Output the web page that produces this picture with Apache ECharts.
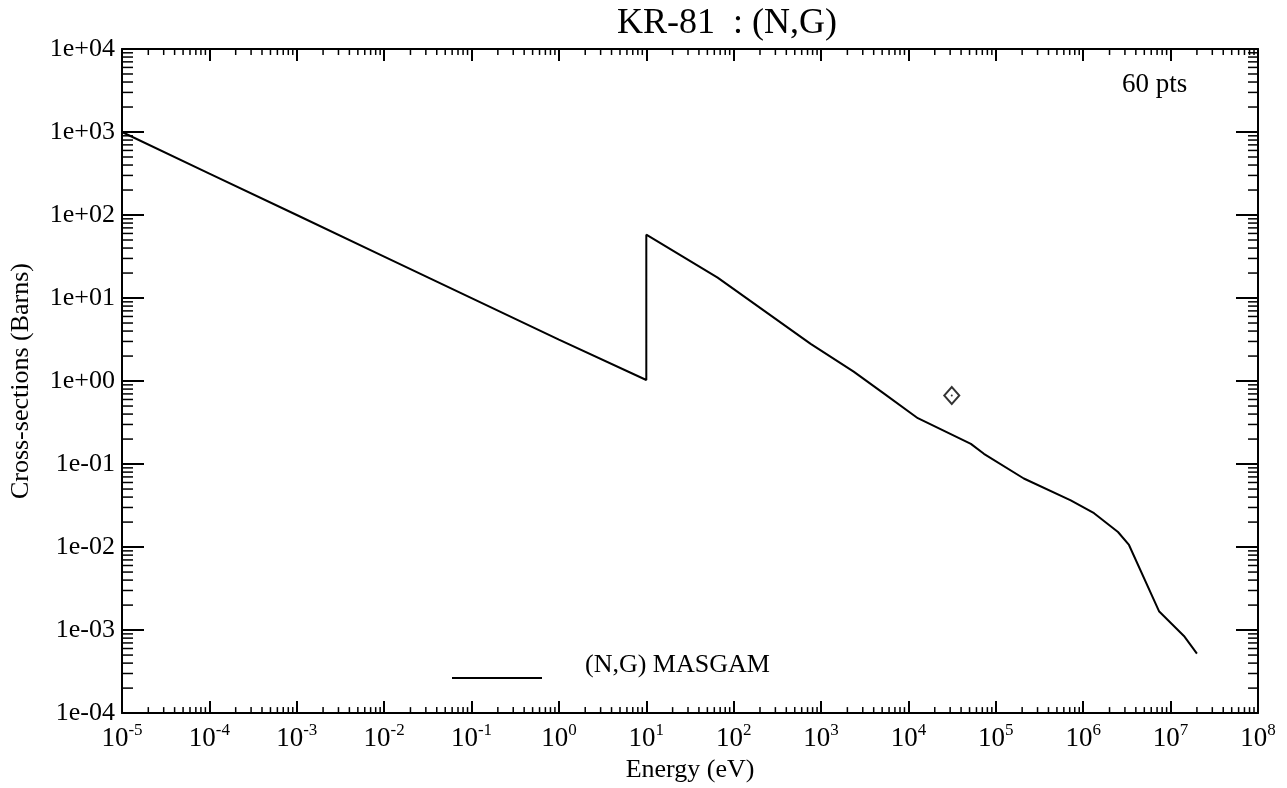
<!DOCTYPE html>
<html>
<head>
<meta charset="utf-8">
<script src="https://cdn.jsdelivr.net/npm/echarts@6/dist/echarts.min.js"></script>
<style>
  html, body { margin: 0; padding: 0; background: #ffffff; }
  #chart { width: 1287px; height: 788px; }
</style>
</head>
<body>
<div id="chart"></div>
<script>
// ---- data ----
const energyEV = [1e-5, 1e-4, 1e-3, 1e-2, 1e-1, 1, 10, 10, 65.5, 760, 2360, 5210, 12800, 51800, 73000, 2.09e5, 7.2e5, 1.33e6, 2.5e6, 3.34e6, 7.36e6, 1.42e7, 2.0e7];
const crossSection = [1000, 316, 100, 31.6, 10, 3.16, 1.03, 58, 17.6, 2.80, 1.30, 0.71, 0.357, 0.175, 0.133, 0.067, 0.0366, 0.0256, 0.0152, 0.0106, 0.00169, 0.00085, 0.00052];
const expEnergy = [3.13e4];
const expCrossSection = [0.67];
const xTickExponents = ['-5', '-4', '-3', '-2', '-1', '0', '1', '2', '3', '4', '5', '6', '7', '8'];
const yTickLabels = ['1e-04', '1e-03', '1e-02', '1e-01', '1e+00', '1e+01', '1e+02', '1e+03', '1e+04'];
const seriesName = '(N,G) MASGAM';
const titleText = 'KR-81  : (N,G)';
const ptsText = '60 pts';

const FONT = '"Liberation Serif", "DejaVu Serif", serif';
const X_MIN = 1e-5, X_MAX = 1e8, Y_MIN = 1e-4, Y_MAX = 1e4;

// minor tick positions (2..9 x 10^k) for axis decoration
const xMinor = [];
for (let k = -5; k < 8; k++) for (let m = 2; m <= 9; m++) xMinor.push([m * Math.pow(10, k), 1]);
const yMinor = [];
for (let k = -4; k < 4; k++) for (let m = 2; m <= 9; m++) yMinor.push([1, m * Math.pow(10, k)]);

const curve = energyEV.map((e, i) => [e, crossSection[i]]);
const expPts = expEnergy.map((e, i) => [e, expCrossSection[i]]);

const chart = echarts.init(document.getElementById('chart'), null, { renderer: 'canvas' });

const axisLine = { show: true, onZero: false, lineStyle: { color: '#000', width: 2 } };

const option = {
  backgroundColor: '#ffffff',
  animation: false,
  title: [
    { text: titleText, left: 617, top: 6, padding: 0,
      textStyle: { fontFamily: FONT, fontSize: 36, fontWeight: 'normal', color: '#000' } },
    { text: ptsText, left: 1122, top: 71, padding: 0,
      textStyle: { fontFamily: FONT, fontSize: 27, fontWeight: 'normal', color: '#000' } }
  ],
  legend: {
    data: [{ name: seriesName, icon: 'rect' }],
    left: 452, top: 652, padding: 0,
    itemWidth: 90, itemHeight: 2,
    formatter: function (name) { return name + '\n '; },
    textStyle: { fontFamily: FONT, fontSize: 26, lineHeight: 26, color: '#000', padding: [0, 0, 0, 38] },
    itemStyle: { color: '#000' }
  },
  grid: { left: 122, right: 29, top: 49, bottom: 68, containLabel: false },
  xAxis: [
    {
      type: 'log', logBase: 10, min: X_MIN, max: X_MAX, interval: 1, position: 'bottom',
      axisLine: axisLine,
      axisTick: { show: true, inside: true, length: 12, lineStyle: { color: '#000', width: 2 } },
      splitLine: { show: false },
      axisLabel: {
        show: true, margin: 9, color: '#000', fontFamily: FONT,
        formatter: function (v) {
          const i = Math.round(Math.log10(v)) + 5;
          return '{b|10}{s|' + xTickExponents[i] + '}';
        },
        rich: {
          b: { fontFamily: FONT, fontSize: 27, color: '#000', verticalAlign: 'bottom', lineHeight: 30 },
          s: { fontFamily: FONT, fontSize: 17, color: '#000', verticalAlign: 'top', lineHeight: 30 }
        }
      },
      name: 'Energy (eV)', nameLocation: 'middle', nameGap: 34,
      nameTextStyle: { fontFamily: FONT, fontSize: 26, color: '#000' }
    },
    {
      type: 'log', logBase: 10, min: X_MIN, max: X_MAX, interval: 1, position: 'top',
      axisLine: axisLine,
      axisTick: { show: true, inside: true, length: 12, lineStyle: { color: '#000', width: 2 } },
      splitLine: { show: false }, axisLabel: { show: false }
    }
  ],
  yAxis: [
    {
      type: 'log', logBase: 10, min: Y_MIN, max: Y_MAX, interval: 1, position: 'left',
      axisLine: axisLine,
      axisTick: { show: true, inside: true, length: 22, lineStyle: { color: '#000', width: 2 } },
      splitLine: { show: false },
      axisLabel: {
        show: true, margin: 7, color: '#000', fontFamily: FONT, fontSize: 26,
        formatter: function (v) {
          return yTickLabels[Math.round(Math.log10(v)) + 4];
        }
      },
      name: 'Cross-sections (Barns)', nameLocation: 'middle', nameGap: 88, nameRotate: 90,
      nameTextStyle: { fontFamily: FONT, fontSize: 26, color: '#000' }
    },
    {
      type: 'log', logBase: 10, min: Y_MIN, max: Y_MAX, interval: 1, position: 'right',
      axisLine: axisLine,
      axisTick: { show: true, inside: true, length: 22, lineStyle: { color: '#000', width: 2 } },
      splitLine: { show: false }, axisLabel: { show: false }
    }
  ],
  series: [
    {
      name: seriesName, type: 'line', xAxisIndex: 0, yAxisIndex: 0,
      data: curve, symbol: 'none', showSymbol: false, smooth: false, clip: true,
      lineStyle: { color: '#000', width: 2 }, itemStyle: { color: '#000' }
    },
    {
      name: 'exp', type: 'scatter', xAxisIndex: 0, yAxisIndex: 0,
      data: expPts, symbol: 'diamond', symbolSize: [15, 17],
      itemStyle: { color: 'rgba(255,255,255,0)', borderColor: '#000', borderWidth: 2 }
    },
    {
      name: 'exp-dot', type: 'scatter', xAxisIndex: 0, yAxisIndex: 0, silent: true,
      data: expPts, symbol: 'circle', symbolSize: 2,
      itemStyle: { color: '#000' }
    },
    {
      name: 'xminor', type: 'custom', xAxisIndex: 0, yAxisIndex: 0, silent: true, clip: false,
      data: xMinor,
      renderItem: function (params, api) {
        const v = api.value(0);
        const b = api.coord([v, Y_MIN]);
        const t = api.coord([v, Y_MAX]);
        const st = { stroke: '#000', lineWidth: 1.5 };
        return { type: 'group', children: [
          { type: 'line', shape: { x1: b[0], y1: b[1], x2: b[0], y2: b[1] - 6 }, style: st },
          { type: 'line', shape: { x1: t[0], y1: t[1], x2: t[0], y2: t[1] + 6 }, style: st }
        ] };
      }
    },
    {
      name: 'yminor', type: 'custom', xAxisIndex: 0, yAxisIndex: 0, silent: true, clip: false,
      data: yMinor,
      renderItem: function (params, api) {
        const v = api.value(1);
        const l = api.coord([X_MIN, v]);
        const r = api.coord([X_MAX, v]);
        const st = { stroke: '#000', lineWidth: 1.5 };
        return { type: 'group', children: [
          { type: 'line', shape: { x1: l[0], y1: l[1], x2: l[0] + 11, y2: l[1] }, style: st },
          { type: 'line', shape: { x1: r[0], y1: r[1], x2: r[0] - 10, y2: r[1] }, style: st }
        ] };
      }
    }
  ]
};
chart.setOption(option);
</script>
</body>
</html>
